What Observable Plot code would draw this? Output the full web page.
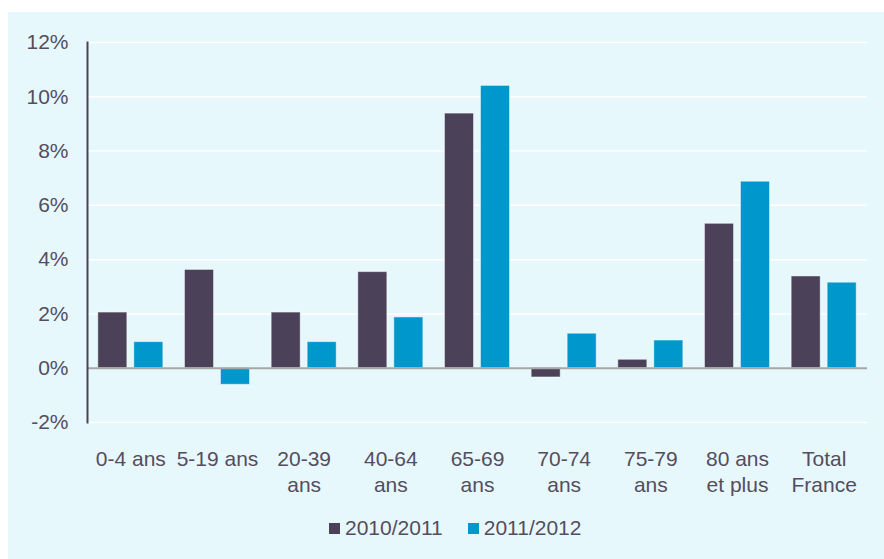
<!DOCTYPE html>
<html>
<head>
<meta charset="utf-8">
<script src="https://cdn.jsdelivr.net/npm/d3@7"></script>
<script src="https://cdn.jsdelivr.net/npm/@observablehq/plot@0.6"></script>
<style>
  html, body { margin: 0; padding: 0; background: #ffffff; width: 884px; height: 559px; overflow: hidden; }
  #panel { position: absolute; left: 8px; top: 12px; width: 876px; height: 547px; background: #e7f8fd; }
  #chart { position: absolute; left: 0; top: 0; }
  #legend { position: absolute; left: 329px; top: 516px; display: flex; align-items: center;
            font-family: "Liberation Sans", Arial, sans-serif; font-size: 21px; color: #544d5e; }
  #legend .item { display: flex; align-items: center; margin-right: 25px; }
  #legend .sw { width: 11px; height: 11px; margin-right: 5px; }
</style>
</head>
<body>
<div id="panel"></div>
<div id="chart"></div>
<div id="legend"></div>
<script>
const categories = ["0-4 ans", "5-19 ans", "20-39\nans", "40-64\nans", "65-69\nans", "70-74\nans", "75-79\nans", "80 ans\net plus", "Total\nFrance"];
const series = ["2010/2011", "2011/2012"];
const values2010_2011 = [2.05, 3.62, 2.05, 3.54, 9.38, -0.34, 0.31, 5.32, 3.38];
const values2011_2012 = [0.96, -0.61, 0.96, 1.87, 10.4, 1.27, 1.02, 6.87, 3.15];
const yTicks = [-2, 0, 2, 4, 6, 8, 10, 12];
const colors = ["#4b4259", "#0097cd"];
const textColor = "#544d5e";

const d1 = categories.map((c, i) => ({category: c, series: series[0], value: values2010_2011[i]}));
const d2 = categories.map((c, i) => ({category: c, series: series[1], value: values2011_2012[i]}));

const chart = Plot.plot({
  width: 884,
  height: 500,
  marginTop: 42,
  marginBottom: 78,
  marginLeft: 87,
  marginRight: 17,
  style: {fontFamily: "'Liberation Sans', Arial, sans-serif", fontSize: "21px", color: textColor, background: "transparent"},
  x: {domain: categories, paddingInner: 0.25, paddingOuter: 0.125, round: false, axis: null},
  y: {domain: [-2, 12], label: null},
  marks: [
    Plot.gridY(yTicks, {stroke: "#ffffff", strokeOpacity: 1, strokeWidth: 1.5}),
    Plot.axisY(yTicks, {tickSize: 0, tickPadding: 19, tickFormat: d => d + "%", fontSize: 21, fill: textColor, label: null}),
    Plot.barY(d1, {x: "category", y: "value", fill: colors[0], insetLeft: 0, insetRight: 36, stroke: "#ffffff", strokeOpacity: 0.45, strokeWidth: 1}),
    Plot.barY(d2, {x: "category", y: "value", fill: colors[1], insetLeft: 36, insetRight: 0, stroke: "#ffffff", strokeOpacity: 0.45, strokeWidth: 1}),
    Plot.ruleY([0], {stroke: "#a6a6a6", strokeWidth: 2}),
    Plot.frame({anchor: "left", stroke: "#4b4259", strokeWidth: 2}),
    Plot.text(categories, {x: d => d, text: d => d, frameAnchor: "bottom", lineAnchor: "top", dy: 25, lineHeight: 1.25, fontSize: 21, fill: textColor})
  ]
});
document.getElementById("chart").appendChild(chart);

const legend = document.getElementById("legend");
series.forEach((s, i) => {
  const item = document.createElement("div");
  item.className = "item";
  const sw = document.createElement("span");
  sw.className = "sw";
  sw.style.background = colors[i];
  const label = document.createElement("span");
  label.textContent = s;
  item.appendChild(sw);
  item.appendChild(label);
  legend.appendChild(item);
});
</script>
</body>
</html>
